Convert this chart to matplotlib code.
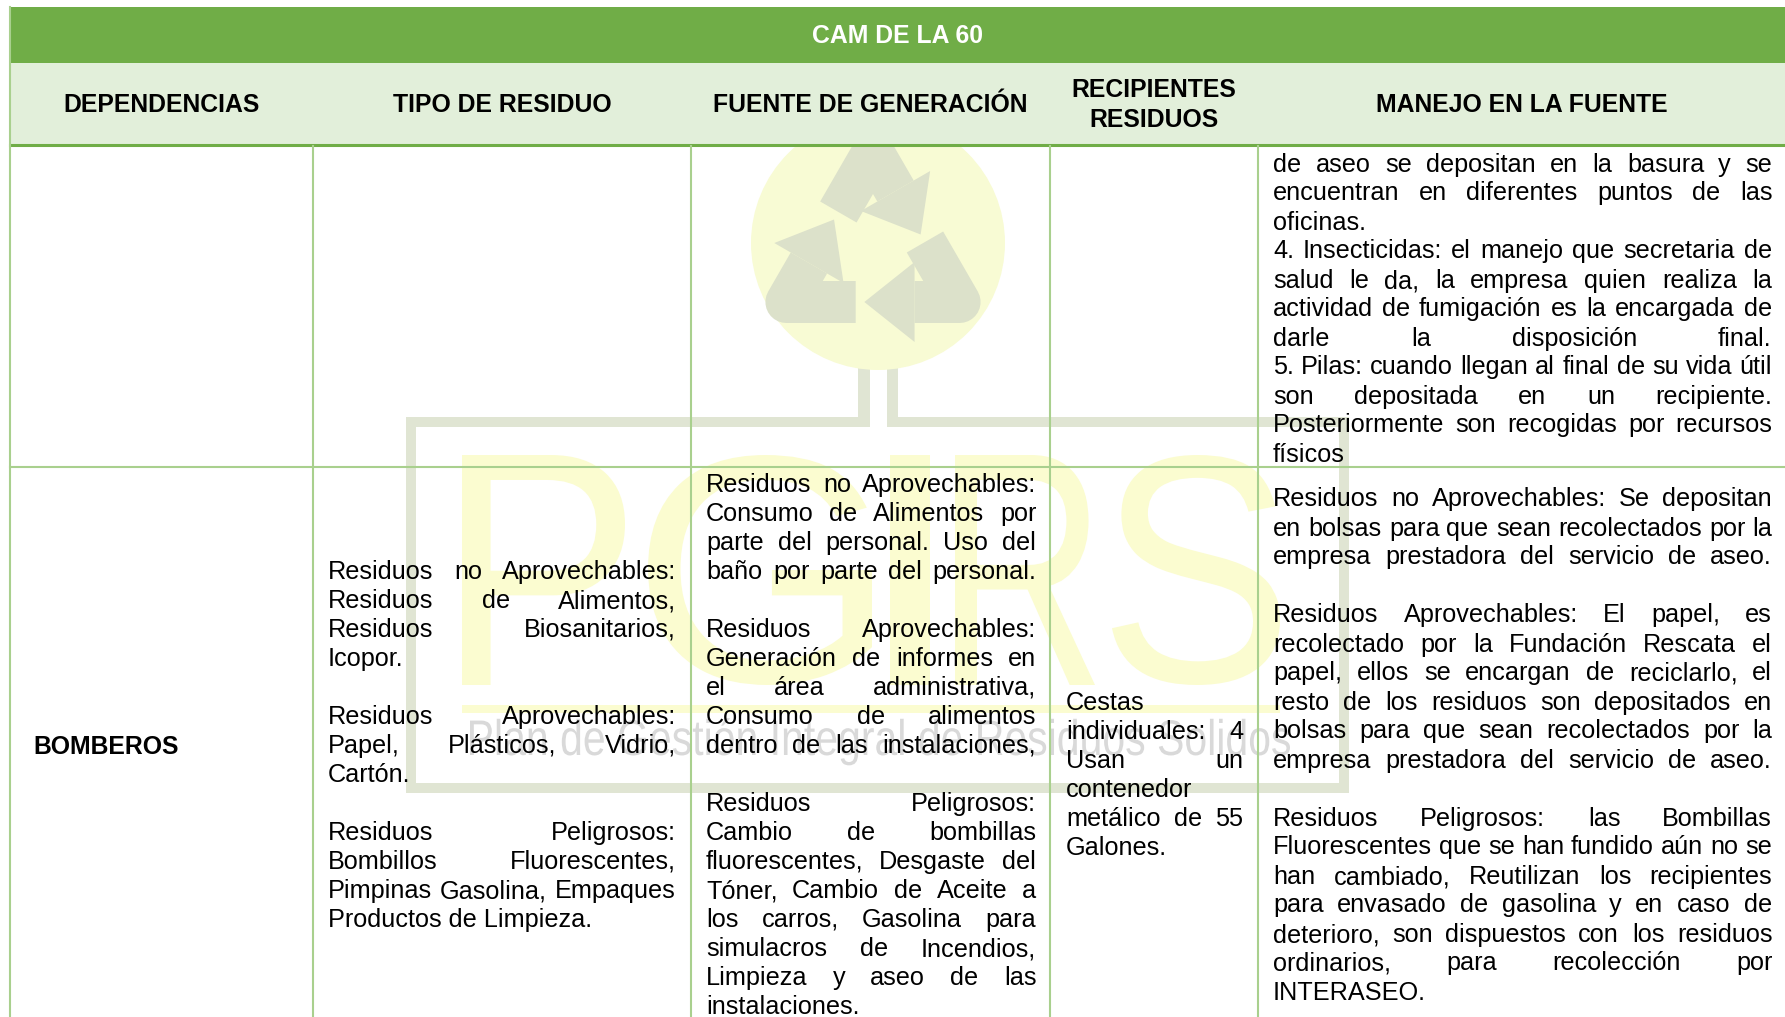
import numpy as np
import matplotlib
matplotlib.use("Agg")
import matplotlib.pyplot as plt
from matplotlib.patches import Rectangle, Circle, Polygon, PathPatch
from matplotlib.textpath import TextPath
from matplotlib.font_manager import FontProperties
from matplotlib.transforms import Affine2D

plt.rcParams['font.family'] = ['Liberation Sans', 'DejaVu Sans']

# ---- content ----
title = "CAM DE LA 60"
headers = ["DEPENDENCIAS", "TIPO DE RESIDUO", "FUENTE DE GENERACIÓN",
           "RECIPIENTES\nRESIDUOS", "MANEJO EN LA FUENTE"]
dependencia = "BOMBEROS"

manejo_anterior = [
    "de aseo se depositan en la basura y se",
    "encuentran en diferentes puntos de las",
    "oficinas.",
    "4. Insecticidas: el manejo que secretaria de",
    "salud le da, la empresa quien realiza la",
    "actividad de fumigación es la encargada de",
    "darle la disposición final.",
    "5. Pilas: cuando llegan al final de su vida útil",
    "son depositada en un recipiente.",
    "Posteriormente son recogidas por recursos",
    "físicos",
]

tipo_residuo = [
    "Residuos no Aprovechables:",
    "Residuos de Alimentos,",
    "Residuos Biosanitarios,",
    "Icopor.",
    "",
    "Residuos Aprovechables:",
    "Papel, Plásticos, Vidrio,",
    "Cartón.",
    "",
    "Residuos Peligrosos:",
    "Bombillos Fluorescentes,",
    "Pimpinas Gasolina, Empaques",
    "Productos de Limpieza.",
]

fuente_generacion = [
    "Residuos no Aprovechables:",
    "Consumo de Alimentos por",
    "parte del personal. Uso del",
    "baño por parte del personal.",
    "",
    "Residuos Aprovechables:",
    "Generación de informes en",
    "el área administrativa,",
    "Consumo de alimentos",
    "dentro de las instalaciones,",
    "",
    "Residuos Peligrosos:",
    "Cambio de bombillas",
    "fluorescentes, Desgaste del",
    "Tóner, Cambio de Aceite a",
    "los carros, Gasolina para",
    "simulacros de Incendios,",
    "Limpieza y aseo de las",
    "instalaciones.",
]

recipientes = [
    "Cestas",
    "individuales: 4",
    "Usan un",
    "contenedor",
    "metálico de 55",
    "Galones.",
]

manejo_fuente = [
    "Residuos no Aprovechables: Se depositan",
    "en bolsas para que sean recolectados por la",
    "empresa prestadora del servicio de aseo.",
    "",
    "Residuos Aprovechables: El papel, es",
    "recolectado por la Fundación Rescata el",
    "papel, ellos se encargan de reciclarlo, el",
    "resto de los residuos son depositados en",
    "bolsas para que sean recolectados por la",
    "empresa prestadora del servicio de aseo.",
    "",
    "Residuos Peligrosos: las Bombillas",
    "Fluorescentes que se han fundido aún no se",
    "han cambiado, Reutilizan los recipientes",
    "para envasado de gasolina y en caso de",
    "deterioro, son dispuestos con los residuos",
    "ordinarios, para recolección por",
    "INTERASEO.",
]

marca_letras = ["P", "G", "I", "R", "S"]
marca_texto = "Plan de Gestión Integral de Residuos Solidos"

# ---- layout (pixels) ----
W, H = 1785, 1017
col_x = [10, 313, 691, 1050, 1258, 1785]
title_top, head_top, head_bot = 7, 63, 145
row_sep = 467
LINE = 29.0
FS = 18.2
FS_HEAD = 17.8

GREEN = "#70AD47"
LIGHT = "#E2EFDA"
BORDER = "#A9D08E"

fig = plt.figure(figsize=(W / 100, H / 100), dpi=100)
ax = fig.add_axes([0, 0, 1, 1])
ax.set_xlim(0, W)
ax.set_ylim(H, 0)
ax.axis("off")

# ---- watermark ----
wm_frame = "#E0E5D3"
for (x, y, w, h) in [(406, 417, 10, 376), (1339, 417, 10, 376), (406, 783, 943, 10),
                     (406, 417, 464, 10), (887, 417, 462, 10),
                     (858, 330, 12, 97), (887, 330, 11, 97)]:
    ax.add_patch(Rectangle((x, y), w, h, color=wm_frame, lw=0, zorder=0.5))

ax.add_patch(Circle((878, 243), 127, color="#F8FBD4", lw=0, zorder=1))

arrow_c = "#DCE1CA"
cx, cy, Rc = 873, 252, 100
angs = np.deg2rad([90, -30, 210])
V = np.array([[cx + Rc * np.cos(a), cy - Rc * np.sin(a)] for a in angs])
for k in range(3):
    Vp, Vk, Vn = V[k - 1], V[k], V[(k + 1) % 3]
    P0 = Vk + (Vp - Vk) * 0.40
    P1 = Vk + (Vn - Vk) * 0.26
    P2 = Vk + (Vn - Vk) * 0.55
    d = (Vn - Vk) / np.linalg.norm(Vn - Vk)
    nrm = np.array([-d[1], d[0]])
    ax.plot([P0[0], Vk[0], P1[0]], [P0[1], Vk[1], P1[1]], color=arrow_c,
            lw=42 * 0.72, solid_joinstyle="round", solid_capstyle="butt", zorder=1.5)
    ax.add_patch(Polygon([P1 + nrm * 40, P2, P1 - nrm * 40], closed=True,
                         color=arrow_c, lw=0, zorder=1.5))

letter_x = [(462, 625), (648, 872), (890, 930), (955, 1095), (1112, 1280)]
fp_wm = FontProperties(family="Liberation Sans")
for ch, (x0, x1) in zip(marca_letras, letter_x):
    tp = TextPath((0, 0), ch, size=100, prop=fp_wm)
    ext = tp.get_extents()
    sx = (x1 - x0) / ext.width
    sy = (685 - 455) / ext.height
    tr = Affine2D().translate(-ext.x0, -ext.y0).scale(sx, -sy).translate(x0, 685)
    ax.add_patch(PathPatch(tr.transform_path(tp), color="#FBFCD0", lw=0, zorder=0.6))
ax.add_patch(Rectangle((462, 705), 818, 8, color="#FBFCD0", lw=0, zorder=0.6))

tp = TextPath((0, 0), marca_texto, size=50, prop=FontProperties(family="Liberation Sans"))
ext = tp.get_extents()
tr = Affine2D().translate(-ext.x0, 0).scale(820 / ext.width, -1).translate(470, 755)
ax.add_patch(PathPatch(tr.transform_path(tp), color="#D9D9D9", lw=0, zorder=0.7))

# ---- header ----
ax.add_patch(Rectangle((col_x[0], title_top), W - col_x[0], head_top - title_top,
                       color=GREEN, lw=0, zorder=2))
ax.add_patch(Rectangle((col_x[0], head_top), W - col_x[0], head_bot - head_top,
                       color=LIGHT, lw=0, zorder=2))
ax.text((col_x[0] + W) / 2, 43, title, color="white", fontsize=FS_HEAD,
        fontweight="bold", ha="center", va="baseline", zorder=4)
for i, h in enumerate(headers):
    xc = (col_x[i] + col_x[i + 1]) / 2
    parts = h.split("\n")
    if len(parts) == 1:
        ax.text(xc, 112, parts[0], fontsize=FS_HEAD, fontweight="bold",
                ha="center", va="baseline", zorder=4)
    else:
        for j, p in enumerate(parts):
            ax.text(xc, 97 + 30 * j, p, fontsize=FS_HEAD, fontweight="bold",
                    ha="center", va="baseline", zorder=4)

# ---- borders ----
ax.plot([col_x[0], W], [head_bot, head_bot], color=GREEN, lw=2.2, zorder=3)
ax.plot([col_x[0], col_x[0]], [title_top, H], color=BORDER, lw=1.5, zorder=3)
for x in col_x[1:-1]:
    ax.plot([x, x], [head_bot + 1, H], color=BORDER, lw=1.5, zorder=3)
ax.plot([col_x[0], W], [row_sep, row_sep], color=BORDER, lw=1.5, zorder=3)

# ---- body text (justified) ----
fig.canvas.draw()
renderer = fig.canvas.get_renderer()
fp_body = FontProperties(family=["Liberation Sans", "DejaVu Sans"], size=FS)


def tw(s):
    return renderer.get_text_width_height_descent(s, fp_body, ismath=False)[0]


SPACE = tw("a a") - tw("aa")


def draw_block(lines, x0, x1, y0):
    y = y0
    avail = x1 - x0
    for i, line in enumerate(lines):
        yy = round(y)
        if line:
            words = line.split()
            nxt = lines[i + 1] if i + 1 < len(lines) else ""
            wds = [tw(w) for w in words]
            natural = sum(wds) + SPACE * (len(words) - 1)
            if len(words) > 1 and (nxt or natural > 0.85 * avail):
                gap = (avail - sum(wds)) / (len(words) - 1)
                x = x0
                for w, ww in zip(words, wds):
                    ax.text(round(x), yy, w, fontproperties=fp_body, ha="left",
                            va="baseline", zorder=4)
                    x += ww + gap
            else:
                ax.text(x0, yy, line, fontproperties=fp_body, ha="left",
                        va="baseline", zorder=4)
        y += LINE


draw_block(manejo_anterior, 1273, 1772, 171.5)
draw_block(tipo_residuo, 328, 676, 579.3)
draw_block(fuente_generacion, 706, 1036, 491.7)
draw_block(recipientes, 1066, 1243, 710.3)
draw_block(manejo_fuente, 1273, 1772, 506.5)

ax.text(33, 754, dependencia, fontsize=FS_HEAD, fontweight="bold",
        ha="left", va="baseline", zorder=4)

fig.savefig("out.png", dpi=100)
